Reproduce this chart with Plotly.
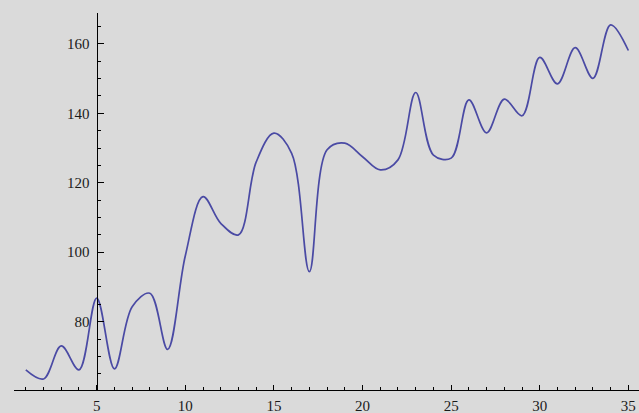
import plotly.graph_objects as go

x_vals = list(range(1, 36))
y_vals = [66.1, 63.5, 73.0, 66.1, 86.8, 66.4, 84.3, 88.2, 72.0, 99.0,
          116.0, 108.3, 105.0, 126.0, 134.3, 128.5, 94.4, 129.5, 131.4, 127.5,
          123.7, 126.6, 146.0, 128.0, 127.1, 143.9, 134.4, 144.1, 139.3, 156.1,
          148.5, 158.9, 150.1, 165.5, 158.1]

x_ticks = [5, 10, 15, 20, 25, 30, 35]
y_ticks = [80, 100, 120, 140, 160]

xmin, xmax = 0.333, 35.6
ymin, ymax = 60.32, 168.9

fig = go.Figure()
fig.add_trace(go.Scatter(
    x=x_vals, y=y_vals, mode="lines",
    line=dict(color="#4a4aa4", width=1.7, shape="spline", smoothing=1.0),
    hoverinfo="skip", showlegend=False,
))

font = dict(family="Liberation Serif", size=15, color="#1a1a1a")

fig.update_layout(
    width=639, height=413,
    margin=dict(l=14, r=0, t=13, b=23),
    paper_bgcolor="#dadada", plot_bgcolor="#dadada",
    xaxis=dict(
        range=[xmin, xmax], showgrid=False, zeroline=False,
        showline=True, linecolor="black", linewidth=1.2,
        tickmode="array", tickvals=x_ticks, ticktext=[str(v) for v in x_ticks],
        ticks="inside", ticklen=5, tickwidth=1, tickcolor="black",
        minor=dict(dtick=1, tick0=0, ticks="inside", ticklen=3, tickcolor="black", tickwidth=1),
        tickfont=font, automargin=False, ticklabelstandoff=2,
    ),
    yaxis=dict(
        range=[ymin, ymax], showgrid=False, zeroline=False,
        anchor="free", position=(5 - xmin) / (xmax - xmin),
        showline=True, linecolor="black", linewidth=1.2,
        tickmode="array", tickvals=y_ticks, ticktext=[str(v) for v in y_ticks],
        ticks="inside", ticklen=6, tickwidth=1, tickcolor="black",
        minor=dict(dtick=5, tick0=0, ticks="inside", ticklen=3, tickcolor="black", tickwidth=1),
        tickfont=font, automargin=False, ticklabelstandoff=4,
    ),
)

fig.write_html(
    "out.html",
    config={"displayModeBar": False},
    post_script="document.body.style.margin='0';document.body.style.background='#dadada';",
)
